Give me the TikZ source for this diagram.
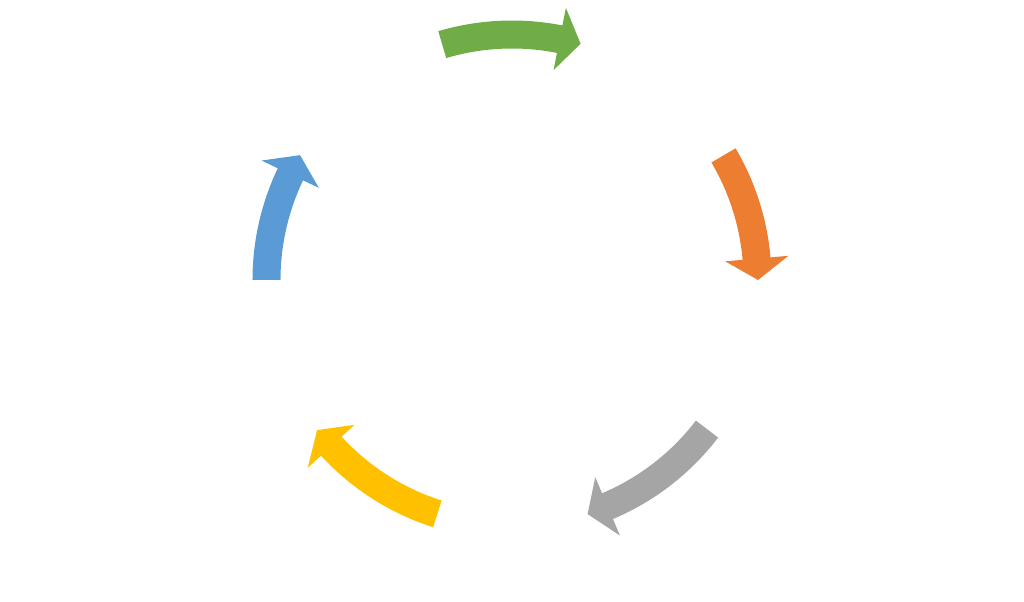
\documentclass[tikz,border=0pt]{standalone}
\usetikzlibrary{calc}
\definecolor{cycgreen}{HTML}{70AD47}
\definecolor{cycorange}{HTML}{ED7D31}
\definecolor{cycgray}{HTML}{A5A5A5}
\definecolor{cycyellow}{HTML}{FFC000}
\definecolor{cycblue}{HTML}{5B9BD5}

\begin{document}
\begin{tikzpicture}[
    cycarrow/.style={fill=#1, draw=none}
]

% Page frame (1024 x 602 px at 0.02 cm per px)
\useasboundingbox (-10.24,-6.44) rectangle (10.24,5.6);

% Band radii: inner, middle, outer; head radii: inner, outer
\def\rin{4.63}
\def\rmid{4.92}
\def\rout{5.19}
\def\hin{4.28}
\def\hout{5.55}

% Curved arrows: tail angle / tip angle / colour
\foreach \ta/\tp/\col in {106.5/73.8/cycgreen, 30.5/0/cycorange,
    -37.4/-72.1/cycgray, -107.7/-142.4/cycyellow, 180/149.5/cycblue}
{
    \pgfmathsetmacro{\hb}{\tp+5}
    \fill[cycarrow=\col]
        (\ta:\rout) arc[start angle=\ta, end angle=\hb, radius=\rout]
        -- (\hb:\hout) -- (\tp:\rmid) -- (\hb:\hin) -- (\hb:\rin)
        arc[start angle=\hb, end angle=\ta, radius=\rin] -- cycle;
}

\end{tikzpicture}
\end{document}
